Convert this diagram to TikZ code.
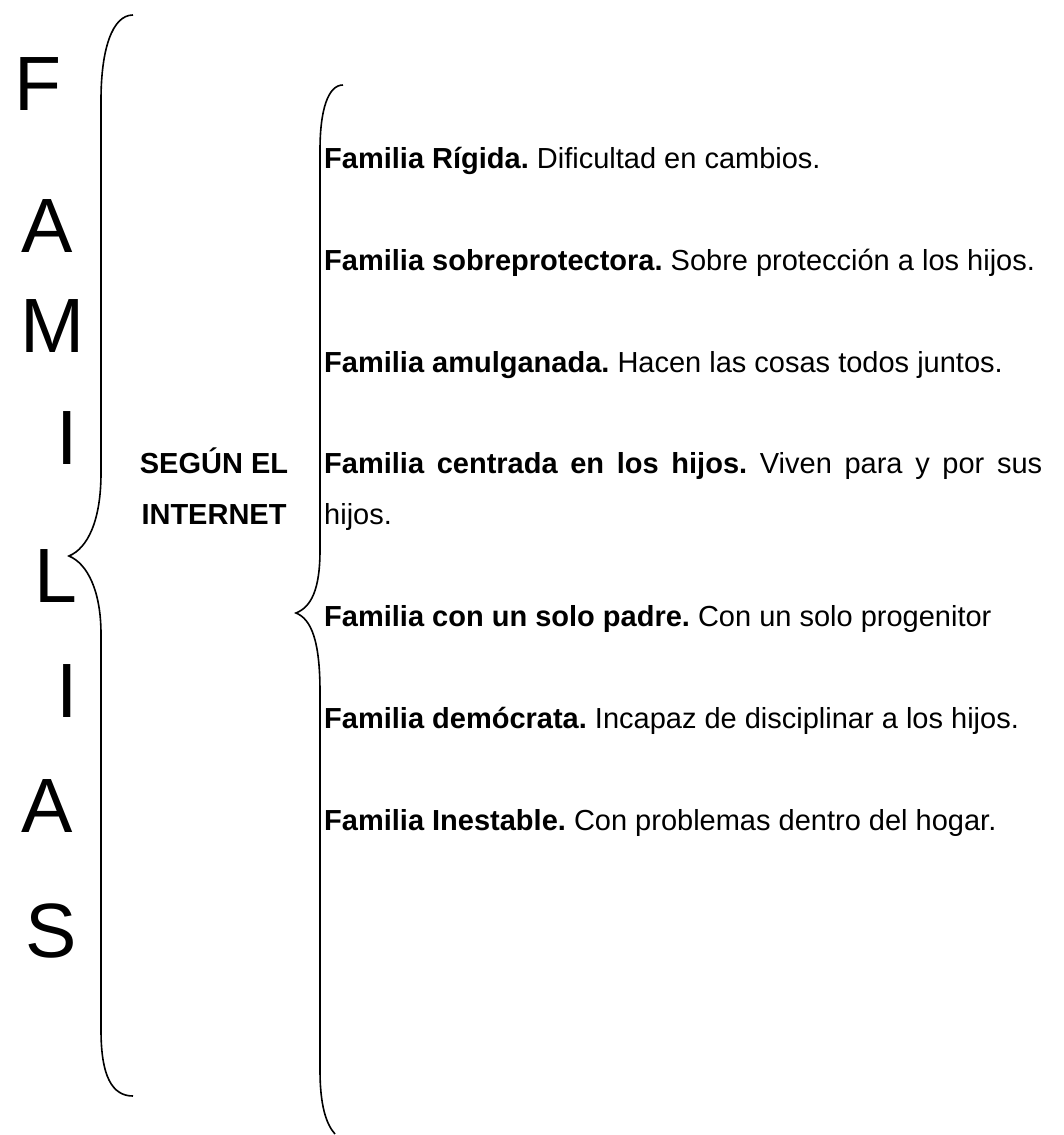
\documentclass[tikz,border=0pt]{standalone}
\usepackage{fontspec}
\setmainfont{Liberation Sans}
\frenchspacing
\begin{document}
\begin{tikzpicture}[x=1pt,y=-1pt,
  letter/.style={anchor=base,inner sep=0pt,font=\fontsize{77}{80}\selectfont},
  itemtext/.style={anchor=base west,inner sep=0pt,font=\fontsize{29}{51}\selectfont\frenchspacing},
  headtext/.style={anchor=base,inner sep=0pt,font=\fontsize{29}{51}\selectfont\bfseries},
  brace/.style={line width=1.6pt}]
\useasboundingbox (0,0) rectangle (1063,1135);

% FAMILIAS vertical letters
\node[letter] (l1) at (38,110) {F};
\node[letter] (l2) at (47,252) {A};
\node[letter] (l3) at (53,352) {M};
\node[letter] (l4) at (67,464) {I};
\node[letter] (l5) at (56,602) {L};
\node[letter] (l6) at (67,717) {I};
\node[letter] (l7) at (47,832) {A};
\node[letter] (l8) at (51,957) {S};

% outer brace
\draw[brace] (133,15) .. controls (112,15) and (101,50) .. (101,100)
  -- (101,473) .. controls (101,520) and (88,548) .. (69,556)
  .. controls (88,564) and (101,592) .. (101,634)
  -- (101,1030) .. controls (101,1076) and (112,1096) .. (133,1096);

% middle label
\node[headtext] (h1) at (214,473) {SEGÚN EL};
\node[headtext] (h2) at (214,524) {INTERNET};

% inner brace
\draw[brace] (343,85) .. controls (328,85) and (320,110) .. (320,150)
  -- (320,550) .. controls (320,590) and (311,607) .. (296,613)
  .. controls (311,619) and (320,640) .. (320,692)
  -- (320,1070) .. controls (320,1105) and (326,1124) .. (335,1134);

% items
\node[itemtext] (i1) at (324,168) {\textbf{Familia Rígida.} Dificultad en cambios.};
\node[itemtext] (i2) at (324,270) {\textbf{Familia sobreprotectora.} Sobre protección a los hijos.};
\node[itemtext] (i3) at (324,372) {\textbf{Familia amulganada.} Hacen las cosas todos juntos.};
\node[itemtext] (i4) at (324,473) {\makebox[718pt][s]{\textbf{Familia centrada en los hijos.} Viven para y por sus}};
\node[itemtext] (i4b) at (324,524) {hijos.};
\node[itemtext] (i5) at (324,626) {\textbf{Familia con un solo padre.} Con un solo progenitor};
\node[itemtext] (i6) at (324,728) {\textbf{Familia demócrata.} Incapaz de disciplinar a los hijos.};
\node[itemtext] (i7) at (324,830) {\textbf{Familia Inestable.} Con problemas dentro del hogar.};
\end{tikzpicture}
\end{document}
